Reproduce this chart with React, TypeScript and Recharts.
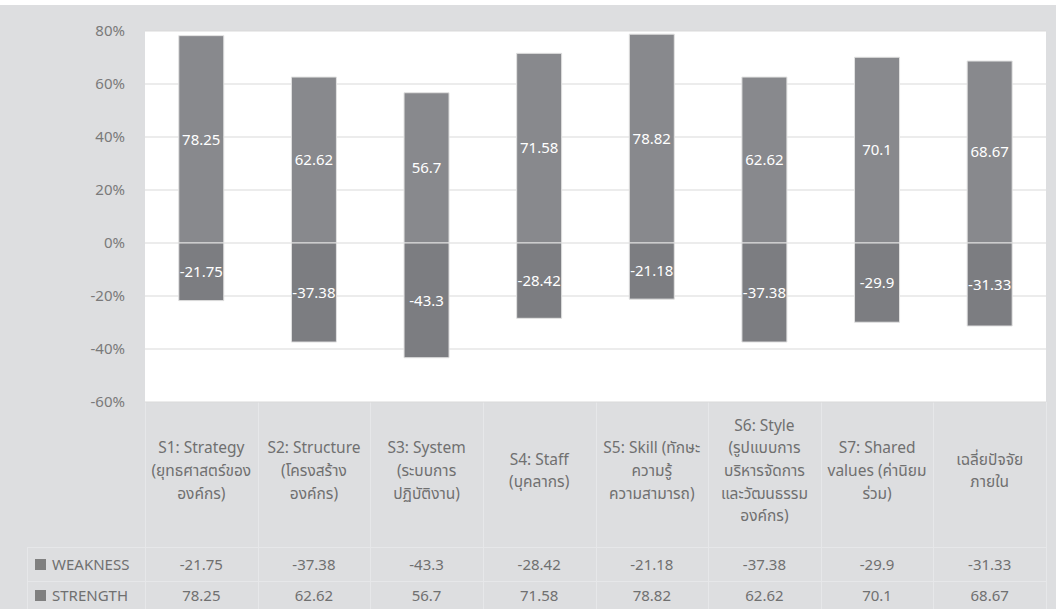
import React from 'react';
import { BarChart, Bar, XAxis, YAxis, CartesianGrid, LabelList } from 'recharts';

const categories = ['S1', 'S2', 'S3', 'S4', 'S5', 'S6', 'S7', 'AVG'];
const tickLabels: string[][] = [
  ['S1: Strategy', '(ยุทธศาสตร์ของ', 'องค์กร)'],
  ['S2: Structure', '(โครงสร้าง', 'องค์กร)'],
  ['S3: System', '(ระบบการ', 'ปฏิบัติงาน)'],
  ['S4: Staff', '(บุคลากร)'],
  ['S5: Skill (ทักษะ', 'ความรู้', 'ความสามารถ)'],
  ['S6: Style', '(รูปแบบการ', 'บริหารจัดการ', 'และวัฒนธรรม', 'องค์กร)'],
  ['S7: Shared', 'values (ค่านิยม', 'ร่วม)'],
  ['เฉลี่ยปัจจัย', 'ภายใน'],
];
const strength = [78.25, 62.62, 56.7, 71.58, 78.82, 62.62, 70.1, 68.67];
const weakness = [-21.75, -37.38, -43.3, -28.42, -21.18, -37.38, -29.9, -31.33];
const yTicks = [-60, -40, -20, 0, 20, 40, 60, 80];
const seriesNames = ['WEAKNESS', 'STRENGTH'];

const data = categories.map((c, i) => ({
  cat: c,
  idx: i,
  strength: strength[i],
  weakness: weakness[i],
}));

const W = 1059;
const H = 609;
const PLOT_LEFT = 145;
const PLOT_RIGHT = 1046;
const PLOT_TOP = 31;
const PLOT_BOTTOM = 402;
const XAXIS_H = 145;
const FONT = '"Noto Sans", "Noto Sans Thai", "Open Sans", sans-serif';
const BG = '#dddee0';
const LINE = '#e6e7e9';
const STRENGTH_COLOR = '#88898d';
const WEAKNESS_COLOR = '#7c7d81';
const TEXT = '#707070';

const CategoryTick = (props: any) => {
  const { x, payload } = props;
  const i = categories.indexOf(payload.value);
  const lines = tickLabels[i] || [];
  const n = lines.length;
  const lh = 22.7;
  const cy = 470;
  return (
    <g>
      {lines.map((l, k) => (
        <text
          key={k}
          x={x}
          y={cy + (k - (n - 1) / 2) * lh}
          textAnchor="middle"
          dominantBaseline="central"
          fill={TEXT}
          fontSize={15.5}
          fontFamily={FONT}
        >
          {l}
        </text>
      ))}
    </g>
  );
};

export default function App() {
  const colW = (PLOT_RIGHT - PLOT_LEFT) / categories.length;
  const rows = [
    { name: seriesNames[0], values: weakness, top: 547, bottom: 581 },
    { name: seriesNames[1], values: strength, top: 581, bottom: 609 },
  ];
  return (
    <div style={{ position: 'absolute', left: 0, top: 0, width: W, height: H, background: '#fff', overflow: 'hidden' }}>
      <div style={{ position: 'absolute', left: 0, top: 5, width: 1056, height: H - 5, background: BG }} />
      {categories.map((c, i) => (
        <div
          key={'v' + c}
          style={{ position: 'absolute', left: PLOT_LEFT + i * colW, top: PLOT_BOTTOM, width: 1, height: H - PLOT_BOTTOM, background: LINE }}
        />
      ))}
      <div style={{ position: 'absolute', left: PLOT_RIGHT, top: PLOT_BOTTOM, width: 1, height: H - PLOT_BOTTOM, background: LINE }} />
      <div style={{ position: 'absolute', left: 27, top: 547, width: 1, height: H - 547, background: LINE }} />
      <div style={{ position: 'absolute', left: 27, top: 547, width: PLOT_RIGHT - 27, height: 1, background: LINE }} />
      <div style={{ position: 'absolute', left: 27, top: 581, width: PLOT_RIGHT - 27, height: 1, background: LINE }} />
      <div style={{ position: 'absolute', left: 0, top: 0 }}>
        <BarChart
          width={W}
          height={H}
          data={data}
          stackOffset="sign"
          barCategoryGap="30%"
          margin={{ top: PLOT_TOP, right: W - PLOT_RIGHT, left: 85, bottom: H - PLOT_BOTTOM - XAXIS_H }}
        >
          <CartesianGrid vertical={false} stroke="#d9d9d9" fill="#ffffff" />
          <XAxis
            dataKey="cat"
            axisLine={false}
            tickLine={false}
            height={XAXIS_H}
            interval={0}
            tick={<CategoryTick />}
          />
          <YAxis
            width={60}
            domain={[-60, 80]}
            ticks={yTicks}
            axisLine={false}
            tickLine={false}
            tickSize={0}
            tickMargin={20}
            tickFormatter={(v: number) => `${v}%`}
            tick={{ fill: '#7a7a7a', fontSize: 15, fontFamily: FONT }}
            interval={0}
          />
          <Bar dataKey="strength" stackId="a" fill={STRENGTH_COLOR} stroke="#e2e2e2" strokeWidth={1} isAnimationActive={false}>
            <LabelList dataKey="strength" position="center" fill="#ffffff" fontSize={15} fontFamily={FONT} />
          </Bar>
          <Bar dataKey="weakness" stackId="a" fill={WEAKNESS_COLOR} stroke="#e2e2e2" strokeWidth={1} isAnimationActive={false}>
            <LabelList dataKey="weakness" position="center" fill="#ffffff" fontSize={15} fontFamily={FONT} />
          </Bar>
        </BarChart>
      </div>
      {rows.map((r) => (
        <React.Fragment key={r.name}>
          <div style={{ position: 'absolute', left: 35, top: (r.top + r.bottom) / 2 - 5.5, width: 11, height: 11, background: '#808080' }} />
          <div
            style={{
              position: 'absolute',
              left: 52,
              top: r.top,
              height: r.bottom - r.top,
              lineHeight: `${r.bottom - r.top}px`,
              fontFamily: FONT,
              fontSize: 15,
              color: TEXT,
              whiteSpace: 'nowrap',
            }}
          >
            {r.name}
          </div>
          {r.values.map((v, i) => (
            <div
              key={i}
              style={{
                position: 'absolute',
                left: PLOT_LEFT + i * colW,
                width: colW,
                top: r.top,
                height: r.bottom - r.top,
                lineHeight: `${r.bottom - r.top}px`,
                textAlign: 'center',
                fontFamily: FONT,
                fontSize: 15,
                color: TEXT,
              }}
            >
              {v}
            </div>
          ))}
        </React.Fragment>
      ))}
    </div>
  );
}
